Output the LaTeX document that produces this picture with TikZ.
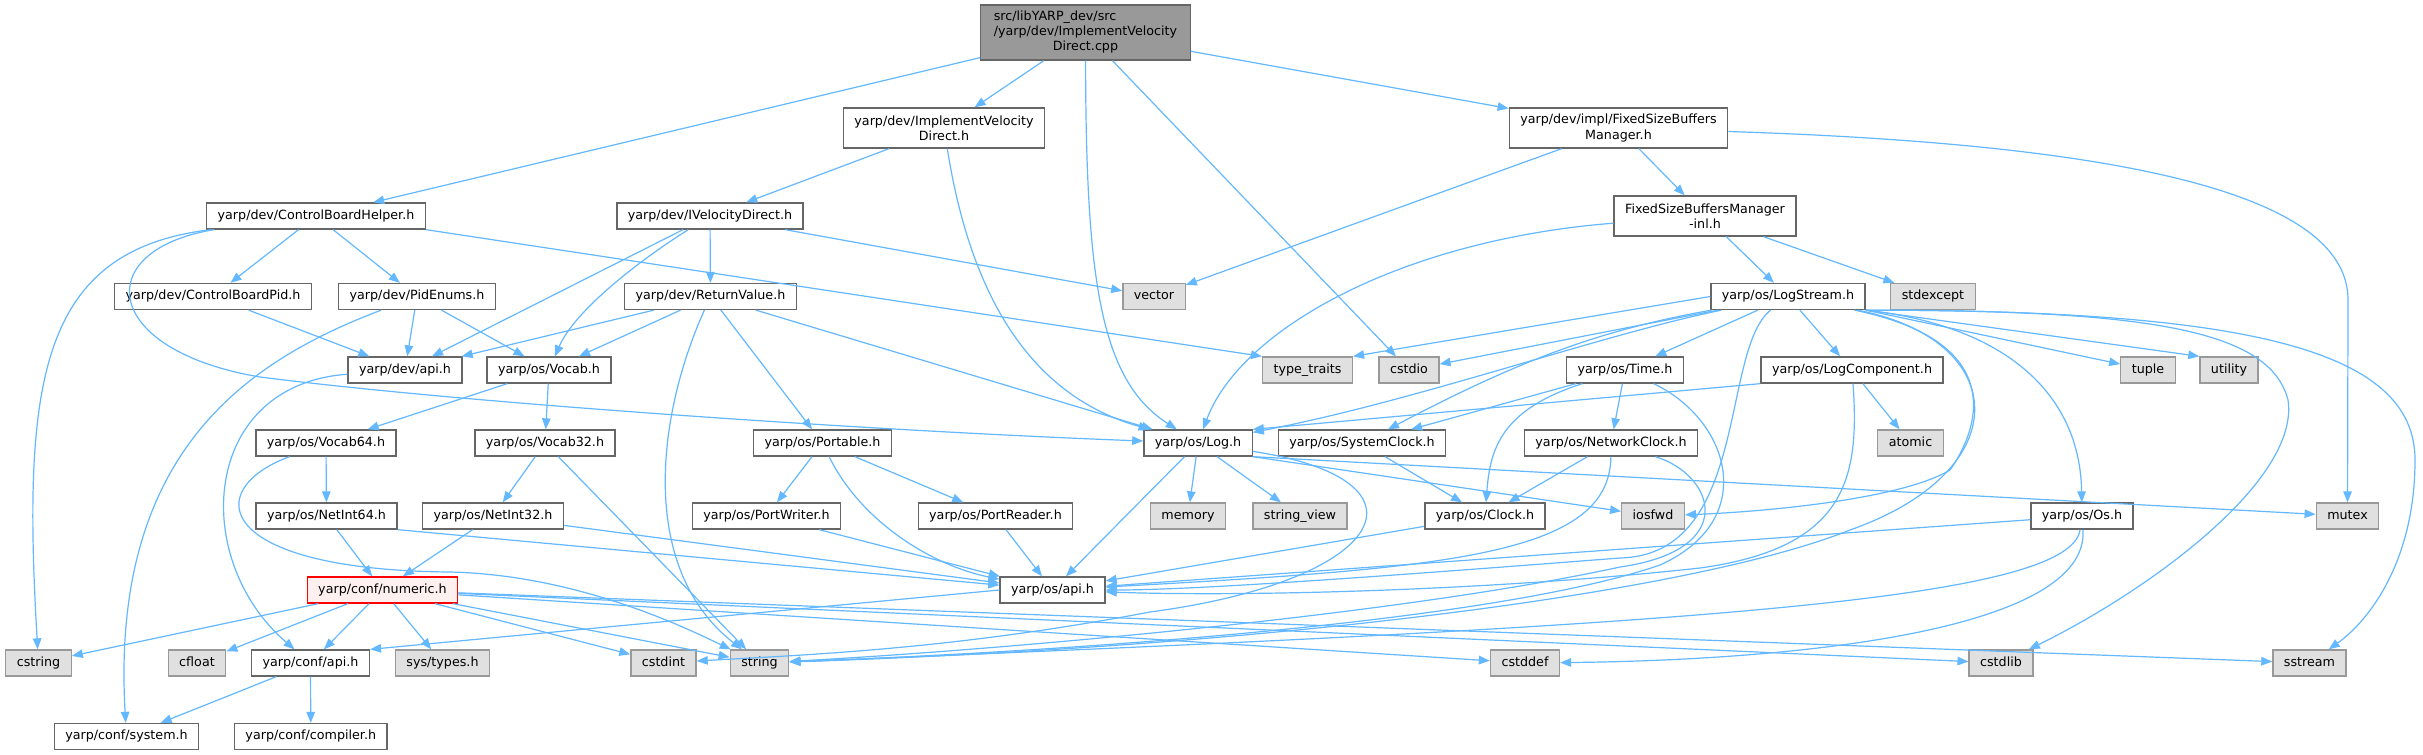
\documentclass[tikz,border=0pt]{standalone}
\usepackage{fontspec}
\setmainfont{DejaVu Sans}
\usepackage{tikz}
\usetikzlibrary{arrows.meta}
\definecolor{edgeblue}{HTML}{63B8FF}
\definecolor{hdrline}{HTML}{666666}
\definecolor{extline}{HTML}{999999}
\definecolor{extfill}{HTML}{E0E0E0}
\definecolor{mainfill}{HTML}{999999}
\definecolor{cutfill}{HTML}{FFF0F0}
\tikzset{
  box/.style={line width=1.3pt, inner xsep=11pt, inner ysep=0pt, minimum height=26pt},
  hdr/.style={box, draw=hdrline, fill=white, text height=9.4pt, text depth=2.6pt},
  ext/.style={box, draw=extline, fill=extfill, text height=9.4pt, text depth=2.6pt},
  cut/.style={hdr, draw=red, fill=cutfill},
  twoline/.style={box, draw=hdrline, fill=white, align=center, minimum height=40pt},
  mainfile/.style={box, draw=hdrline, fill=mainfill, inner xsep=13pt, minimum height=55pt},
  dep/.style={draw=edgeblue, line width=1.2pt, -{Triangle[length=11pt,width=8.5pt]}}
}

\begin{document}
\begin{tikzpicture}[x=1pt, y=-1pt, font=\fontsize{12.7}{15.3}\selectfont]
\useasboundingbox (0,0) rectangle (2423,755);
\fill[white] (0,0) rectangle (2423,755);

\node[mainfile] (main) at (1085.5,32.5) {\begin{tabular}{@{}l@{}}src/libYARP\_dev/src\\/yarp/dev/ImplementVelocity\\\multicolumn{1}{@{}c@{}}{Direct.cpp}\end{tabular}};
\node[twoline] (ivdimpl) at (944,128) {yarp/dev/ImplementVelocity\\Direct.h};
\node[twoline] (fsbm) at (1618.5,128) {yarp/dev/impl/FixedSizeBuffers\\Manager.h};
\node[hdr] (cbh) at (316,216) {yarp/dev/ControlBoardHelper.h};
\node[hdr] (ivd) at (710,216) {yarp/dev/IVelocityDirect.h};
\node[twoline] (inl) at (1705,216) {FixedSizeBuffersManager\\-inl.h};
\node[hdr] (cbpid) at (213,296.5) {yarp/dev/ControlBoardPid.h};
\node[hdr] (pidenums) at (417,296.5) {yarp/dev/PidEnums.h};
\node[hdr] (retval) at (710.5,296.5) {yarp/dev/ReturnValue.h};
\node[ext] (vector) at (1154,296.5) {vector};
\node[hdr] (logstream) at (1788,296.5) {yarp/os/LogStream.h};
\node[ext] (stdexcept) at (1933,296.5) {stdexcept};
\node[hdr] (devapi) at (405,370) {yarp/dev/api.h};
\node[hdr] (vocab) at (549,370) {yarp/os/Vocab.h};
\node[ext] (typetraits) at (1307.5,370) {type\_traits};
\node[ext] (cstdio) at (1409,370) {cstdio};
\node[hdr] (time) at (1625,370) {yarp/os/Time.h};
\node[hdr] (logcomp) at (1852,370) {yarp/os/LogComponent.h};
\node[ext] (tuple) at (2148,370) {tuple};
\node[ext] (utility) at (2229,370) {utility};
\node[hdr] (vocab64) at (326,443) {yarp/os/Vocab64.h};
\node[hdr] (vocab32) at (545,443) {yarp/os/Vocab32.h};
\node[hdr] (portable) at (822.5,443) {yarp/os/Portable.h};
\node[hdr] (logh) at (1198,443) {yarp/os/Log.h};
\node[hdr] (sysclock) at (1362,443) {yarp/os/SystemClock.h};
\node[hdr] (netclock) at (1611,443) {yarp/os/NetworkClock.h};
\node[ext] (atomic) at (1910.5,443) {atomic};
\node[hdr] (netint64) at (326.5,516) {yarp/os/NetInt64.h};
\node[hdr] (netint32) at (493,516) {yarp/os/NetInt32.h};
\node[hdr] (portwriter) at (766.5,516) {yarp/os/PortWriter.h};
\node[hdr] (portreader) at (995.5,516) {yarp/os/PortReader.h};
\node[ext] (memory) at (1188,516) {memory};
\node[ext] (stringview) at (1300,516) {string\_view};
\node[hdr] (clock) at (1485,516) {yarp/os/Clock.h};
\node[ext] (iosfwd) at (1653,516) {iosfwd};
\node[hdr] (osh) at (2082,516) {yarp/os/Os.h};
\node[ext] (mutex) at (2347.5,516) {mutex};
\node[cut] (numeric) at (382.5,590) {yarp/conf/numeric.h};
\node[hdr] (osapi) at (1052.5,590) {yarp/os/api.h};
\node[ext] (cstring) at (38.5,663) {cstring};
\node[ext] (cfloat) at (197,663) {cfloat};
\node[hdr] (confapi) at (310.5,663) {yarp/conf/api.h};
\node[ext] (systypes) at (442.5,663) {sys/types.h};
\node[ext] (cstdint) at (663.5,663) {cstdint};
\node[ext] (string) at (759.5,663) {string};
\node[ext] (cstddef) at (1525,663) {cstddef};
\node[ext] (cstdlib) at (2001,663) {cstdlib};
\node[ext] (sstream) at (2309.5,663) {sstream};
\node[hdr] (confsystem) at (126.5,736.5) {yarp/conf/system.h};
\node[hdr] (compiler) at (310.8,736.5) {yarp/conf/compiler.h};

\draw[dep] (main) -- (cbh);
\draw[dep] (main) -- (ivdimpl);
\draw[dep] (main) -- (cstdio);
\draw[dep] (main) -- (fsbm);
\draw[dep] (main) .. controls (1086,280) and (1100,380) .. (logh);
\draw[dep] (ivdimpl) -- (ivd);
\draw[dep] (ivdimpl) .. controls (965,260) and (1010,390) .. (logh);
\draw[dep] (fsbm) -- (vector);
\draw[dep] (fsbm) -- (inl);
\draw[dep] (fsbm) .. controls (2150,145) and (2348,200) .. (2348,300) -- (mutex);
\draw[dep] (cbh) -- (cbpid);
\draw[dep] (cbh) -- (pidenums);
\draw[dep] (cbh.south east) -- (typetraits.north west);
\draw[dep] ([xshift=5pt]cbh.south west) .. controls (40,250) and (22,380) .. (cstring);
\draw[dep] ([xshift=8pt]cbh.south west) .. controls (90,250) and (100,350) .. (260,377) .. controls (480,405) and (900,432) .. (logh);
\draw[dep] (ivd) -- (devapi);
\draw[dep] (ivd) .. controls (640,260) and (575,310) .. (vocab);
\draw[dep] (ivd) -- (retval);
\draw[dep] (ivd) -- (vector);
\draw[dep] (inl) .. controls (1400,240) and (1240,330) .. (logh);
\draw[dep] (inl) -- (logstream);
\draw[dep] (inl) -- (stdexcept);
\draw[dep] (cbpid) -- (devapi);
\draw[dep] (pidenums) -- (devapi);
\draw[dep] (pidenums) -- (vocab);
\draw[dep] (pidenums) .. controls (250,360) and (110,450) .. (confsystem);
\draw[dep] (retval) -- (devapi);
\draw[dep] (retval) -- (vocab);
\draw[dep] (retval) .. controls (655,420) and (640,570) .. (string);
\draw[dep] (retval) -- (portable);
\draw[dep] (retval) -- (logh);
\draw[dep] (logstream.west) -- (typetraits.north east);
\draw[dep] (logstream) -- (cstdio);
\draw[dep] (logstream) .. controls (1600,335) and (1420,400) .. (logh);
\draw[dep] (logstream) .. controls (1600,330) and (1520,360) .. (sysclock);
\draw[dep] (logstream) -- (time);
\draw[dep] (logstream) -- (logcomp);
\draw[dep] (logstream) .. controls (1720,350) and (1750,555) .. (1620,558) .. controls (1400,575) and (1200,590) .. (osapi);
\draw[dep] (logstream) .. controls (2000,340) and (1985,420) .. (1950,470) .. controls (1900,500) and (1760,512) .. (iosfwd);
\draw[dep] (logstream) .. controls (2010,340) and (2020,470) .. (1850,530) .. controls (1700,590) and (1300,645) .. (string);
\draw[dep] (logstream.south east) .. controls (2000,325) and (2080,390) .. (osh);
\draw[dep] (logstream.south east) -- (tuple);
\draw[dep] (logstream.south east) -- (utility.north west);
\draw[dep] (logstream.south east) .. controls (2150,310) and (2270,330) .. (2288,400) .. controls (2300,480) and (2150,590) .. (cstdlib);
\draw[dep] (logstream.south east) .. controls (2250,310) and (2415,350) .. (2415,460) .. controls (2415,560) and (2370,620) .. (sstream);
\draw[dep] (devapi) .. controls (200,385) and (190,560) .. (confapi);
\draw[dep] (vocab) -- (vocab64);
\draw[dep] (vocab) -- (vocab32);
\draw[dep] (time) -- (sysclock);
\draw[dep] (time) -- (netclock);
\draw[dep] (time) .. controls (1500,410) and (1490,450) .. (clock);
\draw[dep] (time) .. controls (1730,420) and (1760,520) .. (1660,565) .. controls (1500,620) and (1100,650) .. (string);
\draw[dep] (logcomp.south west) -- (logh.north east);
\draw[dep] (logcomp) -- (atomic);
\draw[dep] (logcomp) .. controls (1860,480) and (1845,548) .. (1700,568) .. controls (1500,590) and (1250,597) .. (osapi);
\draw[dep] (vocab64) -- (netint64);
\draw[dep] (vocab64) .. controls (200,490) and (215,570) .. (450,572) .. controls (580,575) and (690,630) .. (string);
\draw[dep] (vocab32) -- (netint32);
\draw[dep] (vocab32) -- (string);
\draw[dep] (portable) -- (portwriter);
\draw[dep] (portable) -- (portreader);
\draw[dep] (portable) .. controls (860,520) and (930,565) .. (osapi);
\draw[dep] (logh) -- (osapi);
\draw[dep] (logh) -- (memory);
\draw[dep] (logh) -- (stringview);
\draw[dep] (logh) .. controls (1440,480) and (1390,580) .. (1150,612) .. controls (950,650) and (800,655) .. (cstdint);
\draw[dep] (logh.south east) -- (iosfwd);
\draw[dep] (logh.south east) -- (mutex);
\draw[dep] (sysclock) -- (clock);
\draw[dep] (netclock) -- (clock);
\draw[dep] (netclock) .. controls (1610,555) and (1450,568) .. (osapi);
\draw[dep] (netclock) .. controls (1715,475) and (1740,550) .. (1620,567) .. controls (1400,615) and (1000,650) .. (string);
\draw[dep] (netint64) -- (numeric);
\draw[dep] (netint64.south east) -- (osapi);
\draw[dep] (netint32) -- (numeric);
\draw[dep] (netint32) -- (osapi);
\draw[dep] (portwriter) -- (osapi);
\draw[dep] (portreader) -- (osapi);
\draw[dep] (clock) -- (osapi);
\draw[dep] (osh) -- (osapi);
\draw[dep] (osh) .. controls (2070,600) and (1700,625) .. (string);
\draw[dep] (osh) .. controls (2090,630) and (1800,660) .. (cstddef);
\draw[dep] (numeric) -- (cstring);
\draw[dep] (numeric) -- (cfloat);
\draw[dep] (numeric) -- (confapi);
\draw[dep] (numeric) -- (systypes);
\draw[dep] (numeric) -- (cstdint);
\draw[dep] (numeric) -- (string);
\draw[dep] (numeric) -- (cstddef);
\draw[dep] (numeric) -- (cstdlib);
\draw[dep] (numeric) -- (sstream);
\draw[dep] (osapi.west) -- (confapi.north east);
\draw[dep] (confapi) -- (confsystem);
\draw[dep] (confapi) -- (compiler);
\end{tikzpicture}
\end{document}
